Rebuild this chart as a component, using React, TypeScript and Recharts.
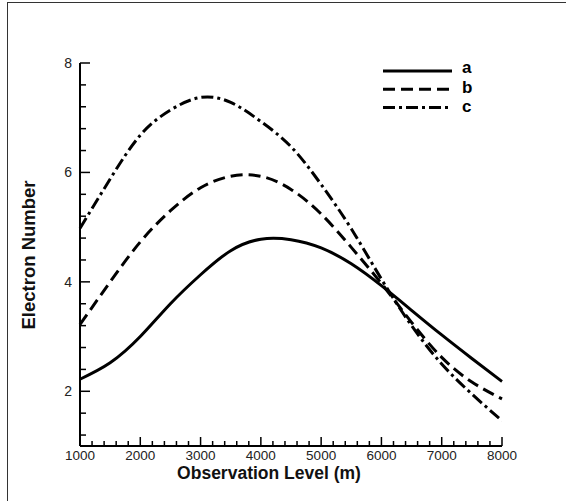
import React from 'react';
import { LineChart, Line, XAxis, YAxis, Legend, Label } from 'recharts';

// observation level (m)
const levels = [1000, 1500, 2000, 2500, 3000, 3500, 4000, 4500, 5000, 5500, 6000, 6500, 7000, 7500, 8000];

// electron number per curve
const curveA = [2.22, 2.52, 3.0, 3.6, 4.13, 4.57, 4.78, 4.77, 4.62, 4.33, 3.93, 3.48, 3.03, 2.6, 2.18];
const curveB = [3.22, 4.0, 4.73, 5.3, 5.72, 5.93, 5.93, 5.69, 5.24, 4.63, 3.97, 3.26, 2.62, 2.17, 1.86];
const curveC = [4.98, 5.88, 6.68, 7.14, 7.37, 7.28, 6.93, 6.47, 5.78, 4.97, 4.05, 3.2, 2.5, 1.95, 1.46];

const seriesNames = ['a', 'b', 'c'];
const seriesDash = ['', '12 6', '12 4 3 4'];

const xMajor = [1000, 2000, 3000, 4000, 5000, 6000, 7000, 8000];
const yMajor = [2, 4, 6, 8];

// minor ticks: 5 steps between x majors, 5 steps between y majors
const xTicks: number[] = [];
for (let v = 1000; v <= 8000; v += 200) xTicks.push(v);
const yTicks: number[] = [];
for (let i = 3; i <= 20; i++) yTicks.push(Math.round(i * 0.4 * 10) / 10);

const data = levels.map((x, i) => ({ x, a: curveA[i], b: curveB[i], c: curveC[i] }));

const FONT = '"Liberation Sans", Arial, sans-serif';

function XTick({ x, y, payload }: any) {
  const v = payload.value;
  const major = xMajor.includes(v);
  return (
    <g>
      <line x1={x} x2={x} y1={y} y2={y - (major ? 9 : 5)} stroke="#000" strokeWidth={1.5} />
      {major && (
        <text x={x} y={y + 14} textAnchor="middle" fontFamily={FONT} fontSize={13.5} fill="#222">
          {v}
        </text>
      )}
    </g>
  );
}

function YTick({ x, y, payload }: any) {
  const v = payload.value;
  const major = yMajor.some((m) => Math.abs(m - v) < 1e-6);
  return (
    <g>
      <line x1={x} x2={x + (major ? 10 : 6)} y1={y} y2={y} stroke="#000" strokeWidth={1.5} />
      {major && (
        <text x={x - 8} y={y + 5} textAnchor="end" fontFamily={FONT} fontSize={14} fill="#222">
          {v}
        </text>
      )}
    </g>
  );
}

function LegendBox() {
  return (
    <svg width={110} height={72}>
      {seriesNames.map((name, i) => (
        <g key={name}>
          <line x1={7} x2={76} y1={21 + i * 18.3} y2={21 + i * 18.3} stroke="#000" strokeWidth={3} strokeDasharray={seriesDash[i] || undefined} />
          <text x={86} y={23 + i * 19.6} fontFamily={FONT} fontSize={17} fontWeight="bold" fill="#000">
            {name}
          </text>
        </g>
      ))}
    </svg>
  );
}

export default function App() {
  return (
    <div style={{ position: 'absolute', left: 0, top: 0, width: 566, height: 501, background: '#fff' }}>
      <div
        style={{
          position: 'absolute',
          left: 7,
          top: 2,
          width: 559,
          height: 499,
          borderLeft: '1px solid #333',
          borderTop: '1px solid #333',
          boxSizing: 'border-box',
        }}
      />
      <div style={{ position: 'absolute', left: 0, top: 0 }}>
        <LineChart width={566} height={501} data={data} margin={{ top: 63, right: 64, bottom: 0, left: 0 }}>
          <XAxis
            dataKey="x"
            type="number"
            domain={[1000, 8000]}
            ticks={xTicks}
            interval={0}
            height={55}
            tickSize={0}
            tickMargin={0}
            tickLine={false}
            axisLine={{ stroke: '#000', strokeWidth: 2 }}
            tick={<XTick />}
          >
            <Label
              content={() => (
                <text x={269} y={479} textAnchor="middle" fontFamily={FONT} fontSize={17.5} fontWeight="bold" fill="#111">
                  Observation Level (m)
                </text>
              )}
            />
          </XAxis>
          <YAxis
            type="number"
            domain={[1, 8]}
            ticks={yTicks}
            interval={0}
            width={80}
            tickSize={0}
            tickMargin={0}
            tickLine={false}
            axisLine={{ stroke: '#000', strokeWidth: 2 }}
            tick={<YTick />}
          >
            <Label
              content={() => (
                <text
                  x={35}
                  y={255}
                  transform="rotate(-90 35 255)"
                  textAnchor="middle"
                  fontFamily={FONT}
                  fontSize={18.5}
                  fontWeight="bold"
                  fill="#111"
                >
                  Electron Number
                </text>
              )}
            />
          </YAxis>
          <Legend
            layout="horizontal"
            verticalAlign="middle"
            align="center"
            content={<LegendBox />}
            wrapperStyle={{ top: 50, left: 376, width: 110, height: 72 }}
          />
          {seriesNames.map((name, i) => (
            <Line
              key={name}
              type="natural"
              dataKey={name}
              name={name}
              stroke="#000"
              strokeWidth={3}
              strokeDasharray={seriesDash[i] || undefined}
              dot={false}
              activeDot={false}
              isAnimationActive={false}
            />
          ))}
        </LineChart>
      </div>
    </div>
  );
}
